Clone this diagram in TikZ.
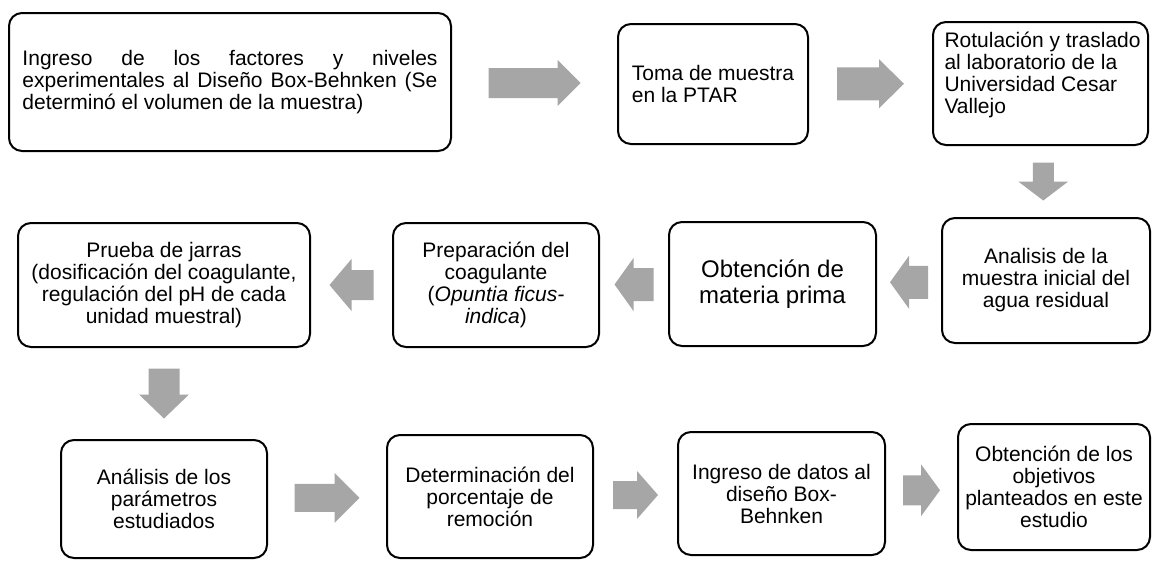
\documentclass[tikz,border=0pt]{standalone}
\usepackage{fontspec}
\setmainfont{Liberation Sans}
\usetikzlibrary{calc}
\definecolor{arrowgray}{HTML}{A6A6A6}
% #1 from anchor, #2 to anchor, #3 angle, #4 length, #5 head length, #6 head half width, #7 shaft half width
\newcommand{\blockarr}[7]{%
  \coordinate (mid) at ($(#1)!0.5!(#2)$);
  \fill[arrowgray, shift={(mid)}, rotate=#3]
    (-#4/2,-#7) -- (#4/2-#5,-#7) -- (#4/2-#5,-#6) -- (#4/2,0) --
    (#4/2-#5,#6) -- (#4/2-#5,#7) -- (-#4/2,#7) -- cycle;
}
\begin{document}
\begin{tikzpicture}[x=1pt,y=-1pt,
  box/.style={draw, line width=2pt, rounded corners=13pt, inner sep=0pt,
    font=\fontsize{21pt}{22pt}\selectfont},
  bigbox/.style={box, font=\fontsize{24pt}{26pt}\selectfont}]
\useasboundingbox (0,0) rectangle (1152,560);

% row 1
\node[box, minimum width=442pt, minimum height=138pt, align=left] (b1) at (230,82)
  {\makebox[415pt][s]{Ingreso de los factores y niveles}\\
   \makebox[415pt][s]{experimentales al Diseño Box-Behnken (Se}\\
   determinó el volumen de la muestra)};
\node[box, minimum width=190pt, minimum height=120pt, align=left] (b2) at (713,84)
  {Toma de muestra\\en la PTAR};
\node[box, minimum width=215pt, minimum height=123pt] (b3) at (1040.5,83.5)
  {\parbox[c][103pt][t]{200pt}{\raggedright\leftskip=4pt
   \mbox{Rotulación y traslado}\\al laboratorio de la\\Universidad Cesar\\Vallejo}};

% row 2
\node[box, minimum width=208pt, minimum height=125pt, align=center] (b4) at (1046,280.5)
  {Analisis de la\\muestra inicial del\\agua residual};
\node[bigbox, minimum width=207pt, minimum height=124pt, align=center] (b5) at (772.5,284)
  {Obtención de\\materia prima};
\node[box, minimum width=206pt, minimum height=124pt, align=center] (b6) at (496,285)
  {Preparación del\\coagulante\\(\textit{Opuntia ficus-}\\\textit{indica})};
\node[box, minimum width=292pt, minimum height=124pt, align=center] (b7) at (164,285)
  {Prueba de jarras\\(dosificación del coagulante,\\regulación del pH de cada\\unidad muestral)};

% row 3
\node[box, minimum width=206pt, minimum height=118pt, align=center] (b8) at (164,499)
  {Análisis de los\\parámetros\\estudiados};
\node[box, minimum width=206pt, minimum height=123pt, align=center] (b9) at (490,496.5)
  {Determinación del\\porcentaje de\\remoción};
\node[box, minimum width=207pt, minimum height=123pt, align=center] (b10) at (781.5,493.5)
  {Ingreso de datos al\\diseño Box-\\Behnken};
\node[box, minimum width=192pt, minimum height=126pt, align=center] (b11) at (1054,487)
  {Obtención de los\\objetivos\\planteados en este\\estudio};

% block arrows
\blockarr{b1.east}{b2.west}{0}{92}{23}{23}{15}
\blockarr{b2.east}{b3.west}{0}{67}{25}{24.5}{16.5}
\blockarr{b3.south}{b4.north}{-90}{38}{19}{25}{10.5}
\blockarr{b4.west}{b5.east}{180}{38}{19}{26.5}{16.5}
\blockarr{b5.west}{b6.east}{180}{39}{19}{26.5}{16.5}
\blockarr{b6.west}{b7.east}{180}{44}{22}{26}{15}
\blockarr{b7.south}{b8.north}{-90}{50}{24}{25}{15.5}
\blockarr{b8.east}{b9.west}{0}{65}{25}{25}{14}
\blockarr{b9.east}{b10.west}{0}{45}{21}{24}{14}
\blockarr{b10.east}{b11.west}{0}{37}{19}{26}{15}
\end{tikzpicture}
\end{document}
